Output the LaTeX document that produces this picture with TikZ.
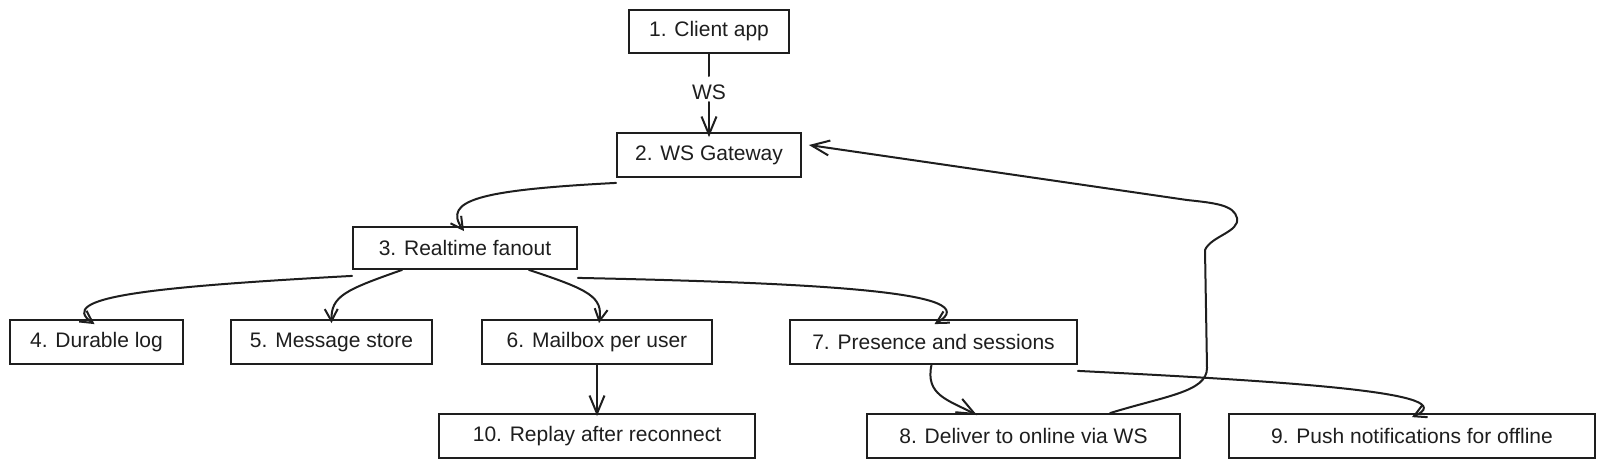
\documentclass[tikz,border=0pt]{standalone}
\usepackage{fontspec}
\setmainfont{Liberation Sans}
\usetikzlibrary{arrows.meta}
\definecolor{ink}{HTML}{1E1E1E}
\begin{document}
\begin{tikzpicture}[x=1pt,y=-1pt,
  box/.style={draw=ink, line width=1.8pt, minimum height=43pt, inner sep=0pt,
    font=\fontsize{21}{25}\selectfont, text=ink, anchor=center},
  conn/.style={draw=ink, line width=2pt, line cap=round,
    -{Straight Barb[length=12pt,width=13pt,line width=2pt]}},
  bigconn/.style={conn, -{Straight Barb[length=18pt,width=15pt,line width=2pt]}},
  plain/.style={draw=ink, line width=2pt, line cap=round},
  lbl/.style={fill=white, inner sep=2pt, font=\fontsize{21}{25}\selectfont, text=ink}
]
\useasboundingbox (0,0) rectangle (1604,469);
\fill[white] (0,0) rectangle (1604,469);

\node[box, minimum width=160pt] (b1) at (709,31.5) {1. Client app};
\node[box, minimum width=184pt, minimum height=44pt] (b2) at (709,155) {2. WS Gateway};
\node[box, minimum width=224pt, minimum height=42pt] (b3) at (465,248) {3. Realtime fanout};
\node[box, minimum width=173pt, minimum height=44pt] (b4) at (96.5,342) {4. Durable log};
\node[box, minimum width=201pt, minimum height=44pt] (b5) at (331.5,342) {5. Message store};
\node[box, minimum width=230pt, minimum height=44pt] (b6) at (597,342) {6. Mailbox per user};
\node[box, minimum width=287pt, minimum height=44pt] (b7) at (933.5,342) {7. Presence and sessions};
\node[box, minimum width=316pt, minimum height=44pt] (b10) at (597,436) {10. Replay after reconnect};
\node[box, minimum width=313pt, minimum height=44pt] (b8) at (1023.5,436) {8. Deliver to online via WS};
\node[box, minimum width=366pt, minimum height=44pt] (b9) at (1412,436) {9. Push notifications for offline};

% 1 -> 2
\coordinate (ws) at (709,92);
\draw[plain] (b1.south) -- (709,76);
\node[lbl] (wsl) at (ws) {WS};
\draw[bigconn] (709,102) -- ([yshift=-5pt]b2.north);

% 2 -> 3
\draw[conn] ([yshift=-5pt]b2.south west) .. controls (480,190) and (442,200) .. ([xshift=-1pt,yshift=-5pt]b3.north);

% 3 -> 4,5,6,7
\draw[conn] ([yshift=-6pt]b3.south west) .. controls (150,287) and (55,297) .. ([xshift=-2pt,yshift=-5pt]b4.north);
\draw[conn] ([xshift=50pt]b3.south west) .. controls (345,290) and (331,296) .. ([xshift=0pt,yshift=-4pt]b5.north);
\draw[conn] ([xshift=-49pt]b3.south east) .. controls (590,290) and (603,297) .. ([xshift=2pt,yshift=-4pt]b6.north);
\draw[conn] ([yshift=-8pt]b3.south east) .. controls (820,283) and (990,292) .. ([xshift=1pt,yshift=-5pt]b7.north);

% 6 -> 10
\draw[bigconn] (b6.south) -- ([yshift=-3pt]b10.north);

% 7 -> 8, 9
\draw[bigconn] ([xshift=-2pt]b7.south) .. controls (925,395) and (948,400) .. ([xshift=-46.5pt,yshift=-2pt]b8.north);
\draw[conn] ([yshift=-6pt]b7.south east) .. controls (1300,382) and (1465,393) .. ([yshift=-4pt]b9.north);

% 8 -> 2 (loop)
\draw[bigconn] ([xshift=86.5pt]b8.north) .. controls (1165,396) and (1207,392) .. (1207,368)
  -- (1205,250) .. controls (1211,236) and (1240,232) .. (1237,218)
  .. controls (1234,205) and (1215,203) .. (1187,200)
  -- ([xshift=7pt,yshift=10pt]b2.east);
\end{tikzpicture}
\end{document}
